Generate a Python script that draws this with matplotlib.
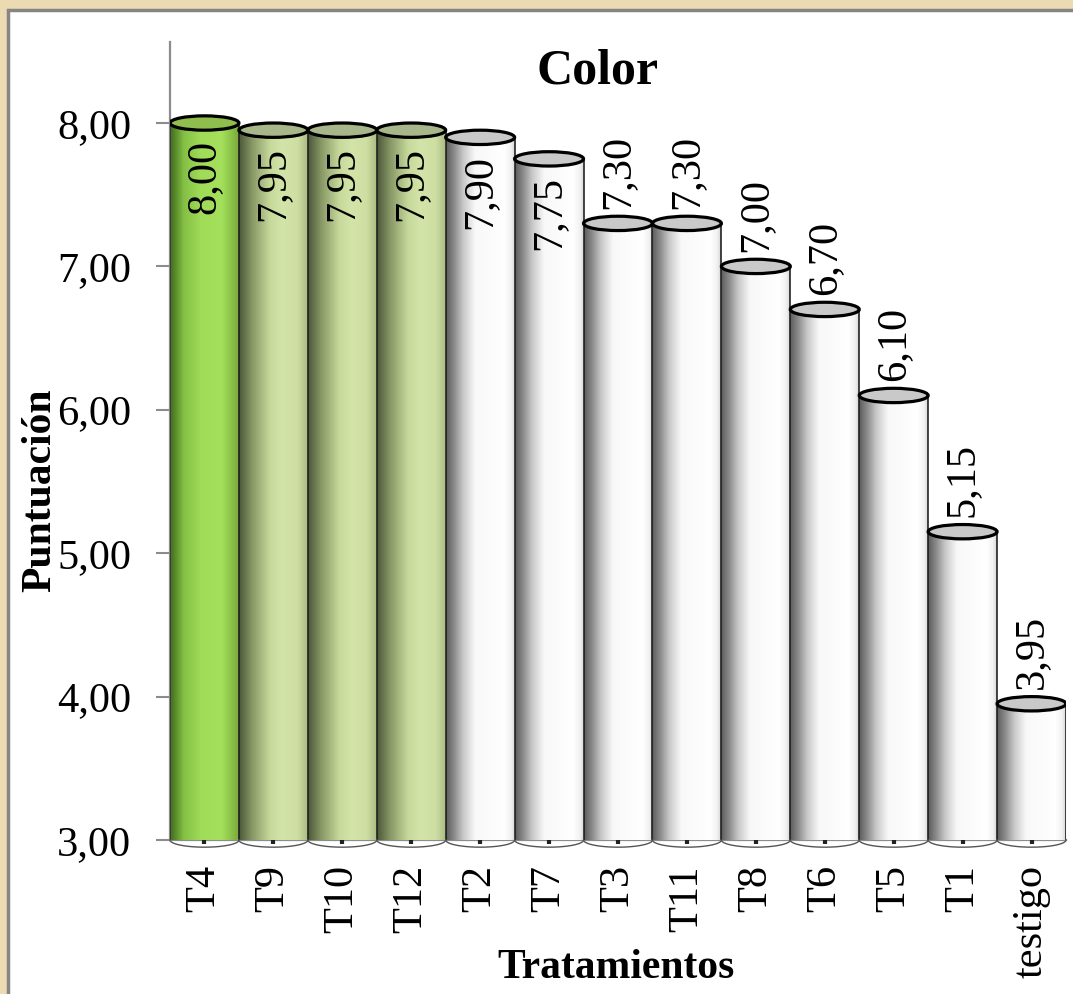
import numpy as np
import matplotlib
matplotlib.use("Agg")
import matplotlib.pyplot as plt
from matplotlib.colors import LinearSegmentedColormap
from matplotlib.patches import Ellipse, PathPatch, Rectangle
from matplotlib.path import Path

# Sensory score for colour per treatment
tratamientos = ["T4", "T9", "T10", "T12", "T2", "T7", "T3", "T11", "T8", "T6", "T5", "T1", "testigo"]
puntuacion = [8.00, 7.95, 7.95, 7.95, 7.90, 7.75, 7.30, 7.30, 7.00, 6.70, 6.10, 5.15, 3.95]
yticks = [3, 4, 5, 6, 7, 8]

BASE = 3.0
YTOP = 8.565
EH = 0.05  # half height of the cylinder caps, data units

plt.rcParams["font.family"] = ["Liberation Serif", "DejaVu Serif"]

W, H = 1073, 994
fig = plt.figure(figsize=(W / 100, H / 100), dpi=100)
fig.patch.set_facecolor("#ebdab2")

# white panel with a grey frame
fig.patches.append(Rectangle((8 / W, -0.05), 1.1, (H - 10) / H + 0.05,
                             transform=fig.transFigure, facecolor="white",
                             edgecolor="#858585", linewidth=2.5, zorder=-5))

ax = fig.add_axes([170 / W, (H - 840) / H, 896 / W, 798 / H])
ax.set_facecolor("none")
ax.set_zorder(2)

# side shading of the cylinders: dark left edge, light band, soft right edge
shades = {
    "verde": LinearSegmentedColormap.from_list("verde", [
        (0.0, "#3f6a1c"), (0.2, "#84c044"), (0.45, "#a0dc58"), (0.75, "#a4e05c"), (1.0, "#78aa3a")]),
    "claro": LinearSegmentedColormap.from_list("claro", [
        (0.0, "#4c5838"), (0.2, "#8a9a68"), (0.45, "#c6d89a"), (0.62, "#d3e4a8"), (0.85, "#cfdfa4"), (1.0, "#aabb82")]),
    "blanco": LinearSegmentedColormap.from_list("blanco", [
        (0.0, "#5c5c5c"), (0.12, "#8c8c8c"), (0.25, "#c8c8c8"), (0.42, "#f8f8f8"), (0.85, "#ffffff"), (0.95, "#f0f0f0"), (1.0, "#d4d4d4")]),
}
tapas = {"verde": "#8fbd4e", "claro": "#a8b78a", "blanco": "#c9c9c9"}

grad = np.linspace(0, 1, 256).reshape(1, -1)
t = np.linspace(np.pi, 2 * np.pi, 60)

for i, v in enumerate(puntuacion):
    tipo = "verde" if i == 0 else ("claro" if i < 4 else "blanco")
    x0, x1 = i - 0.5, i + 0.5

    # body outline: bottom half-ellipse, sides, top edge
    arc_x = i + 0.5 * np.cos(t)
    arc_y = BASE + EH * np.sin(t)
    verts = list(zip(arc_x, arc_y)) + [(x1, v), (x0, v), (arc_x[0], arc_y[0])]
    body = Path(verts, closed=True)

    img = ax.imshow(grad, cmap=shades[tipo], extent=(x0, x1, BASE - EH, v),
                    aspect="auto", interpolation="bilinear", zorder=2)
    clip = PathPatch(body, transform=ax.transData, facecolor="none", edgecolor="none")
    ax.add_patch(clip)
    img.set_clip_path(clip)

    ax.plot([x0, x0], [BASE, v], color="#2a2a2a", lw=0.6, zorder=3)
    ax.plot([x1, x1], [BASE, v], color="#111111", lw=1.1, zorder=3)
    ax.plot(arc_x, arc_y, color="#555555", lw=1.0, zorder=3, clip_on=False)

    ax.add_patch(Ellipse((i, v), 1.0, 2 * EH, facecolor=tapas[tipo],
                         edgecolor="black", linewidth=2.3, zorder=4))

    lab = f"{v:.2f}".replace(".", ",")
    if v >= 7.75:
        ax.text(i, v - 0.12, lab, rotation=90, ha="center", va="top",
                fontsize=30.5, zorder=5)
    else:
        ax.text(i, v + 0.1, lab, rotation=90, ha="center", va="bottom",
                fontsize=30.5, zorder=5)

ax.set_xlim(-0.5, len(puntuacion) - 0.5)
ax.set_ylim(BASE, YTOP)

ax.set_yticks(yticks)
ax.set_yticklabels([f"{y:.2f}".replace(".", ",") for y in yticks], fontsize=30.5)
ax.set_xticks(range(len(tratamientos)))
ax.set_xticklabels(tratamientos, rotation=90, fontsize=30.5, va="top")

ax.tick_params(axis="y", length=10, width=1.5, color="#8c8c8c", pad=18)
ax.tick_params(axis="x", length=3, width=3, color="#222222", pad=15)

for s in ("top", "right"):
    ax.spines[s].set_visible(False)
for s in ("left", "bottom"):
    ax.spines[s].set_color("#8c8c8c")
    ax.spines[s].set_linewidth(1.6)
ax.spines["bottom"].set_zorder(1)

fig.text(598 / W, 1 - 72 / H, "Color", fontsize=36, fontweight="bold",
         ha="center", va="center")
fig.text(40 / W, 1 - 490 / H, "Puntuación", fontsize=30, fontweight="bold",
         rotation=90, ha="center", va="center")
fig.text(616 / W, 1 - 968 / H, "Tratamientos", fontsize=30, fontweight="bold",
         ha="center", va="center")

fig.savefig("out.png", dpi=100)
